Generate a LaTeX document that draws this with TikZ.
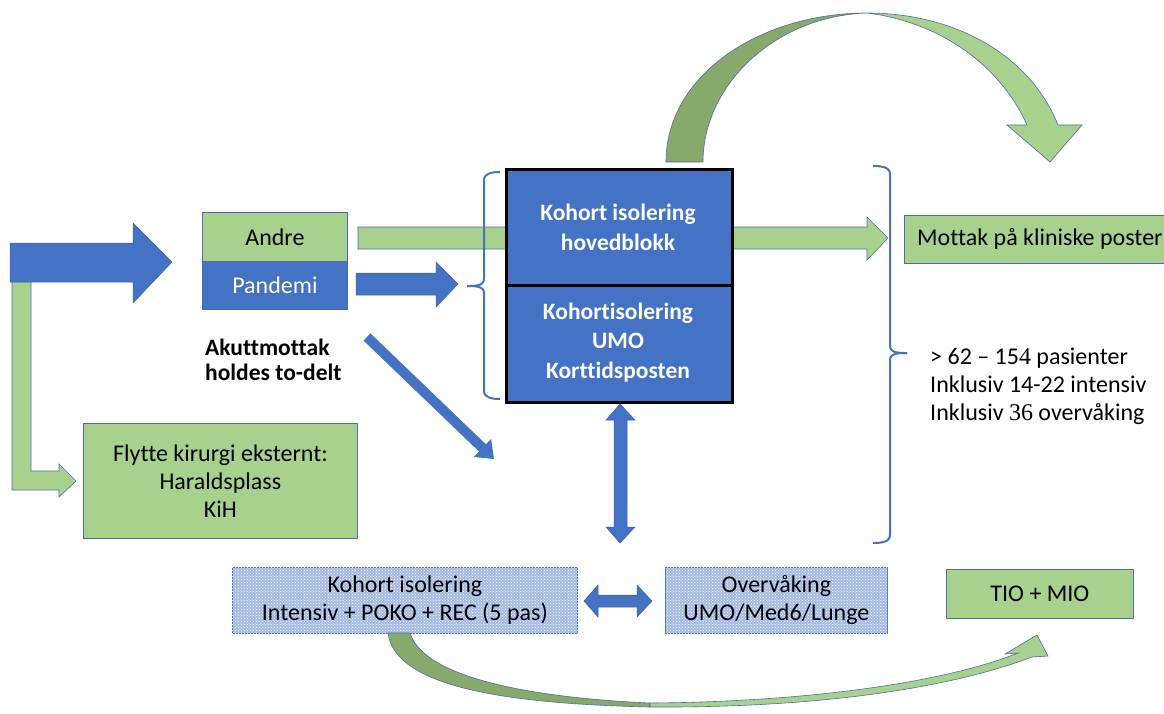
\documentclass[tikz,border=0pt]{standalone}
\usepackage{fontspec}
\setmainfont{Carlito}[Ligatures=NoCommon]
\newfontfamily\serifdig{Liberation Serif}
\usetikzlibrary{patterns,arrows.meta}
\definecolor{pblue}{HTML}{4472C4}
\definecolor{pgreen}{HTML}{A9D18E}
\definecolor{dgreen}{HTML}{88A96C}
\definecolor{edgec}{HTML}{4A6FA5}
\definecolor{lblue}{HTML}{A4BAE4}
\begin{document}
\begin{tikzpicture}[x=1pt,y=-1pt,
  txt/.style={font=\fontsize{24}{28}\selectfont, inner sep=0pt, align=center},
  wtxt/.style={font=\fontsize{23.5}{29.5}\selectfont\bfseries, text=white, inner sep=0pt, align=center},
  gbox/.style={draw=edgec, fill=pgreen, line width=0.8pt, inner sep=0pt, anchor=north west},
  bbox/.style={draw=edgec, fill=pblue, line width=0.8pt, inner sep=0pt, anchor=north west},
  mbox/.style={draw=black, fill=pblue, line width=3pt, inner sep=0pt, anchor=north west},
  pbox/.style={draw=pblue, fill=lblue, line width=0.8pt, inner sep=0pt, anchor=north west},
  garrow/.style={draw=edgec, fill=pgreen, line width=0.6pt},
  darrow/.style={draw=edgec, fill=dgreen, line width=0.6pt},
  barrow/.style={draw=pblue!85!black, fill=pblue, line width=0.5pt},
  bracec/.style={draw=pblue, line width=2pt},
]
\useasboundingbox (0,0) rectangle (1164,713);

% left green L arrow
\draw[garrow] (12,280) -- (31,280) -- (31,471) -- (59,471) -- (59,464) -- (76,481) -- (59,497) -- (59,490) -- (12,490) -- cycle;
% big blue arrow
\draw[barrow] (10,243) -- (133,243) -- (133,223) -- (172,262) -- (133,303) -- (133,282) -- (10,282) -- cycle;

% boxes
\node[gbox, minimum width=145pt, minimum height=49pt] (andre) at (202,212) {};
\node[txt] at (andre.center) {Andre};
\node[bbox, minimum width=145pt, minimum height=48pt] (pandemi) at (202,261) {};
\node[txt, text=white] at (pandemi.center) {Pandemi};

% green long arrow behind main box
\draw[garrow] (358,227) -- (867,227) -- (867,217) -- (888,238) -- (867,260) -- (867,249) -- (358,249) -- cycle;
% blue arrow from Pandemi
\draw[barrow] (356,273) -- (436,273) -- (436,262) -- (458,284) -- (436,307) -- (436,295) -- (356,295) -- cycle;

% left bracket
\draw[bracec] (500,172) to[out=180,in=90] (484,180) -- (484,279) to[out=-90,in=0] (467,286);
\draw[bracec] (467,286) to[out=0,in=90] (484,293) -- (484,391) to[out=-90,in=180] (500,399);

% main box
\node[mbox, minimum width=226pt, minimum height=116pt] (hoved) at (505,168) {};
\node[mbox, minimum width=226pt, minimum height=117pt] (umo) at (505,284) {};
\node[wtxt] at (618,227.5) {Kohort isolering\\hovedblokk};
\node[wtxt] at (618,342.5) {Kohortisolering\\UMO\\Korttidsposten};

% right bracket
\draw[bracec] (873,166) to[out=0,in=90] (890,174) -- (890,346) to[out=-90,in=180] (907,353);
\draw[bracec] (907,353) to[out=180,in=90] (890,360) -- (890,535) to[out=-90,in=0] (873,543);

% Mottak
\node[gbox, minimum width=271pt, minimum height=48pt] (mottak) at (904,215) {};
\node[txt, anchor=west] at (917,239) {Mottak på kliniske poster};

% right text
\node[txt, anchor=west, align=left] (info) at (930,386) {> 62 – 15{\serifdig 4} pasienter\\Inklusiv 14-22 intensiv\\Inklusiv {\serifdig 36} overvåking};

% Akuttmottak text
\node[font=\fontsize{23.5}{25}\selectfont\bfseries, inner sep=0pt, align=left, anchor=west] (akutt) at (205,359.5) {Akuttmottak\\holdes to-delt};

% diagonal arrow
\coordinate (d1) at (367,337);
\coordinate (d2) at (494,459);
\draw[pblue, line width=10pt, -{Triangle[length=16pt,width=24pt]}] (d1) -- (d2);

% Flytte box
\node[gbox, minimum width=274pt, minimum height=115pt] (flytte) at (83,423) {};
\node[txt] at (flytte.center) {Flytte kirurgi eksternt:\\Haraldsplass\\KiH};

% vertical double arrow
\draw[barrow] (620,404) -- (635,420) -- (627,420) -- (627,527) -- (635,527) -- (620,543) -- (606,527) -- (614,527) -- (614,420) -- (606,420) -- cycle;

% top curved arrow
\draw[darrow] (666,162) .. controls (666,75) and (760,13) .. (867,13) .. controls (775,16) and (703,85) .. (703,162) -- cycle;
\draw[garrow] (867,13) .. controls (955,13) and (1030,55) .. (1058,125) -- (1082,125) -- (1050,162) -- (1007,125) -- (1027,125) .. controls (1000,65) and (940,22) .. (867,13) -- cycle;

% bottom boxes
\node[pbox, minimum width=345pt, minimum height=66pt] (intensiv) at (232,567) {};
\fill[pattern=crosshatch dots, pattern color=white] (intensiv.north west) rectangle (intensiv.south east);
\node[txt] at (intensiv.center) {Kohort isolering\\Intensiv + POKO + REC (5 pas)};
\node[pbox, minimum width=222pt, minimum height=66pt] (overv) at (665,567) {};
\fill[pattern=crosshatch dots, pattern color=white] (overv.north west) rectangle (overv.south east);
\node[txt] at (overv.center) {Overvåking\\UMO/Med6/Lunge};
\node[gbox, minimum width=187pt, minimum height=49pt] (tio) at (946,569) {};
\node[txt] at (tio.center) {TIO + MIO};

% horizontal double arrow
\draw[barrow] (584,601) -- (598,585) -- (598,595) -- (637,595) -- (637,585) -- (652,601) -- (637,617) -- (637,607) -- (598,607) -- (598,617) -- cycle;

% bottom curved arrow
\draw[darrow] (388,633) .. controls (395,690) and (520,704) .. (650,707) -- (650,703) .. controls (540,698) and (425,680) .. (410,633) -- cycle;
\draw[garrow] (650,707) .. controls (820,708) and (950,688) .. (1032,657) -- (1048,656) -- (1037,635) -- (1005,654) -- (1018,653) .. controls (940,684) and (800,702) .. (650,703) -- cycle;
\end{tikzpicture}
\end{document}
